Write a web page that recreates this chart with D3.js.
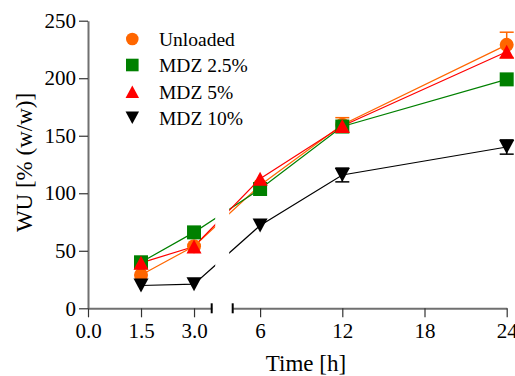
<!DOCTYPE html>
<html>
<head>
<meta charset="utf-8">
<script src="https://cdn.jsdelivr.net/npm/d3@7"></script>
</head>
<body style="margin:0">
<div id="chart"></div>
<script>
const width = 515;
const height = 376;

// data
const times = [1.5, 3, 6, 12, 24];
const seriesNames = ["Unloaded", "MDZ 2.5%", "MDZ 5%", "MDZ 10%"];
const unloaded = [29, 54, 107, 159.5, 229];
const unloadedErr = [0, 0, 0, 6.2, 11];
const mdz25 = [40, 66, 103.7, 158, 199];
const mdz25Err = [0, 0, 0, 0, 0];
const mdz5 = [39.5, 53.7, 112.7, 158.5, 223];
const mdz5Err = [0, 0, 0, 0, 0];
const mdz10 = [19.8, 21, 72, 115.9, 140.2];
const mdz10Err = [0, 0, 0, 6, 6.2];
const yTicks = [0, 50, 100, 150, 200, 250];
const xTicksLeft = [0, 1.5, 3];
const xTicksRight = [6, 12, 18, 24];

const colors = ["#ff6600", "#008000", "#ff0000", "#000000"];
const shapes = ["circle", "square", "triangle", "triangleDown"];
const values = [unloaded, mdz25, mdz5, mdz10];
const errors = [unloadedErr, mdz25Err, mdz5Err, mdz10Err];

const serif = '"Liberation Serif"';

const svg = d3.select("#chart")
    .append("svg")
    .attr("width", width)
    .attr("height", height);

const y = d3.scaleLinear().domain([0, 250]).range([308.3, 20.7]);
// broken x axis: two segments
const x1 = d3.scaleLinear().domain([0, 3.5]).range([88, 211.7]);
const x2 = d3.scaleLinear().domain([4, 24]).range([232.7, 506.7]);
const xPos = t => t <= 3.5 ? x1(t) : x2(t);

// clip regions so the lines are cut at the break
const defs = svg.append("defs");
defs.append("clipPath").attr("id", "clipL")
    .append("rect").attr("x", 0).attr("y", 0)
    .attr("width", x1(3.5) + 3.5).attr("height", height);
defs.append("clipPath").attr("id", "clipR")
    .append("rect").attr("x", x2(4) - 3.5).attr("y", 0)
    .attr("width", width).attr("height", height);

// axes
const yAxis = svg.append("g")
    .attr("transform", `translate(${x1(0)},0)`)
    .call(d3.axisLeft(y).tickValues(yTicks).tickSize(9).tickPadding(3).tickSizeOuter(0));

const xAxisL = svg.append("g")
    .attr("transform", `translate(0,${y(0)})`)
    .call(d3.axisBottom(x1).tickValues(xTicksLeft).tickFormat(d3.format(".1f"))
        .tickSize(9).tickPadding(6).tickSizeOuter(0));

const xAxisR = svg.append("g")
    .attr("transform", `translate(0,${y(0)})`)
    .call(d3.axisBottom(x2).tickValues(xTicksRight).tickFormat(d3.format("d"))
        .tickSize(9).tickPadding(6).tickSizeOuter(0));

[yAxis, xAxisL, xAxisR].forEach(g => {
    g.attr("font-family", null).attr("font-size", null);
    g.select(".domain").attr("stroke", "#707070").attr("stroke-width", 2);
    g.selectAll(".tick line").attr("stroke", "#333").attr("stroke-width", 1.2);
    g.selectAll(".tick text")
        .attr("fill", "#000")
        .attr("font-size", 21)
        .style("font-family", serif);
});

// break end marks
svg.append("g").selectAll("line")
    .data([x1(3.5), x2(4)])
    .join("line")
    .attr("x1", d => d).attr("x2", d => d)
    .attr("y1", y(0) - 5).attr("y2", y(0) + 5)
    .attr("stroke", "#000").attr("stroke-width", 2);

// axis titles
svg.append("text")
    .attr("transform", `translate(32,${(y(0) + y(250)) / 2 - 2}) rotate(-90)`)
    .attr("text-anchor", "middle")
    .attr("font-size", 23)
    .style("font-family", serif)
    .text("WU [% (w/w)]");

svg.append("text")
    .attr("x", 306)
    .attr("y", 371)
    .attr("text-anchor", "middle")
    .attr("font-size", 23)
    .style("font-family", serif)
    .text("Time [h]");

// marker shapes
function shapePath(shape, s) {
    const r = 7 * s, h = 7.5 * s;
    if (shape === "circle") {
        return `M${-r},0A${r},${r} 0 1,0 ${r},0A${r},${r} 0 1,0 ${-r},0Z`;
    } else if (shape === "square") {
        return `M${-r},${-r}H${r}V${r}H${-r}Z`;
    } else if (shape === "triangle") {
        return `M0,${-r}L${h},${r}L${-h},${r}Z`;
    }
    return `M0,${r}L${h},${-r}L${-h},${-r}Z`;
}

const line = d3.line()
    .x(d => xPos(d.t))
    .y(d => y(d.v));

const series = values.map((vals, i) => ({
    name: seriesNames[i],
    color: colors[i],
    shape: shapes[i],
    points: times.map((t, j) => ({ t: t, v: vals[j], e: errors[i][j] }))
}));

// connecting lines, drawn in each segment
["clipL", "clipR"].forEach(c => {
    svg.append("g")
        .attr("clip-path", `url(#${c})`)
        .selectAll("path")
        .data(series)
        .join("path")
        .attr("d", d => line(d.points))
        .attr("fill", "none")
        .attr("stroke", d => d.color)
        .attr("stroke-width", 1.2);
});

// error bars (only where the SD shows past the symbol)
series.forEach(s => {
    const g = svg.append("g").attr("stroke", s.color).attr("stroke-width", 1.5);
    s.points.filter(p => p.e > 0).forEach(p => {
        const cx = xPos(p.t);
        g.append("line")
            .attr("x1", cx).attr("x2", cx)
            .attr("y1", y(p.v - p.e)).attr("y2", y(p.v + p.e));
        [p.v - p.e, p.v + p.e].forEach(v => {
            g.append("line")
                .attr("x1", cx - 7).attr("x2", cx + 7)
                .attr("y1", y(v)).attr("y2", y(v));
        });
    });
});

// markers
series.forEach(s => {
    svg.append("g").selectAll("path")
        .data(s.points)
        .join("path")
        .attr("transform", d => `translate(${xPos(d.t)},${y(d.v)})`)
        .attr("d", shapePath(s.shape, 1))
        .attr("fill", s.color);
});

// legend
const legendY = [39, 65, 91.7, 117.7];
const legend = svg.append("g");
series.forEach((s, i) => {
    legend.append("path")
        .attr("transform", `translate(132.3,${legendY[i]})`)
        .attr("d", shapePath(s.shape, 0.9))
        .attr("fill", s.color);
    legend.append("text")
        .attr("x", 159)
        .attr("y", legendY[i] + 7)
        .attr("font-size", 19.5)
        .style("font-family", serif)
        .text(s.name);
});
</script>
</body>
</html>
